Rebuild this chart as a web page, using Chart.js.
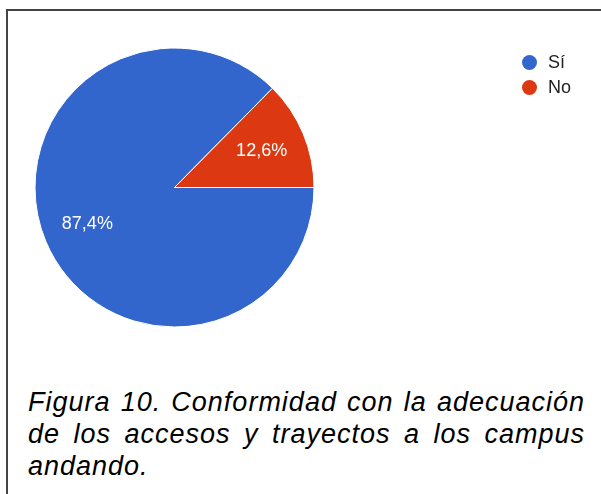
<!DOCTYPE html>
<html>
<head>
<meta charset="utf-8">
<script src="https://cdn.jsdelivr.net/npm/chart.js@4/dist/chart.umd.min.js"></script>
<style>
  html, body { margin: 0; padding: 0; background: #fff; }
  body { width: 601px; height: 494px; position: relative; overflow: hidden; font-family: "Liberation Sans", Arial, sans-serif; }
  #frame { position: absolute; left: 6px; top: 9px; width: 620px; height: 520px; border-left: 2px solid #444; border-top: 2px solid #444; }
  #wrap { position: absolute; left: 0; top: 0; width: 601px; height: 370px; }
  #legend { position: absolute; left: 522px; top: 47px; }
  .li { display: flex; align-items: center; height: 30px; margin-top: -5px; }
  .li:first-child { margin-top: 0; }
  .dot { width: 15px; height: 15px; border-radius: 50%; margin-right: 11px; }
  .lt { font-size: 18px; color: #222; }
  #caption { position: absolute; left: 28px; top: 386px; width: 557px; font-style: italic; font-size: 27px; line-height: 32px; color: #000; letter-spacing: 1px; }
  #caption .j { text-align: justify; text-align-last: justify; white-space: nowrap; }
  #caption .l { text-align: left; }
</style>
</head>
<body>
<div id="frame"></div>
<div id="wrap"><canvas id="c"></canvas></div>
<div id="legend"></div>
<div id="caption"></div>
<script>
const categories = ["Sí", "No"];
const values = [87.4, 12.6];
const valueLabels = ["87,4%", "12,6%"];
const colors = ["#3366cc", "#dc3912"];
const captionLines = ["Figura 10. Conformidad con la adecuación", "de los accesos y trayectos a los campus", "andando."];

const sliceLabels = {
  id: "sliceLabels",
  afterDatasetsDraw(chart) {
    const ctx = chart.ctx;
    const meta = chart.getDatasetMeta(0);
    ctx.save();
    ctx.fillStyle = "#ffffff";
    ctx.font = '18px "Liberation Sans", Arial, sans-serif';
    ctx.textAlign = "center";
    ctx.textBaseline = "middle";
    meta.data.forEach((arc, i) => {
      const p = arc.getProps(["x", "y", "startAngle", "endAngle", "outerRadius"], true);
      const mid = (p.startAngle + p.endAngle) / 2;
      const r = p.outerRadius * 0.677;
      ctx.fillText(valueLabels[i], p.x + Math.cos(mid) * r, p.y + Math.sin(mid) * r);
    });
    ctx.restore();
  }
};

new Chart(document.getElementById("c"), {
  type: "pie",
  data: {
    labels: categories,
    datasets: [{
      data: values,
      backgroundColor: colors,
      borderColor: "#ffffff",
      borderWidth: 1,
      hoverOffset: 0,
      offset: 0
    }]
  },
  options: {
    responsive: true,
    maintainAspectRatio: false,
    animation: false,
    events: [],
    rotation: 90,
    radius: 139.5,
    layout: { padding: { left: 35, top: 48, right: 287, bottom: 43 } },
    plugins: {
      legend: { display: false },
      tooltip: { enabled: false }
    }
  },
  plugins: [sliceLabels]
});

const lg = document.getElementById("legend");
categories.forEach((c, i) => {
  const row = document.createElement("div");
  row.className = "li";
  const d = document.createElement("span");
  d.className = "dot";
  d.style.background = colors[i];
  const t = document.createElement("span");
  t.className = "lt";
  t.textContent = c;
  row.appendChild(d);
  row.appendChild(t);
  lg.appendChild(row);
});

const cap = document.getElementById("caption");
captionLines.forEach((line, i) => {
  const div = document.createElement("div");
  div.className = i < captionLines.length - 1 ? "j" : "l";
  div.textContent = line;
  cap.appendChild(div);
});
</script>
</body>
</html>
